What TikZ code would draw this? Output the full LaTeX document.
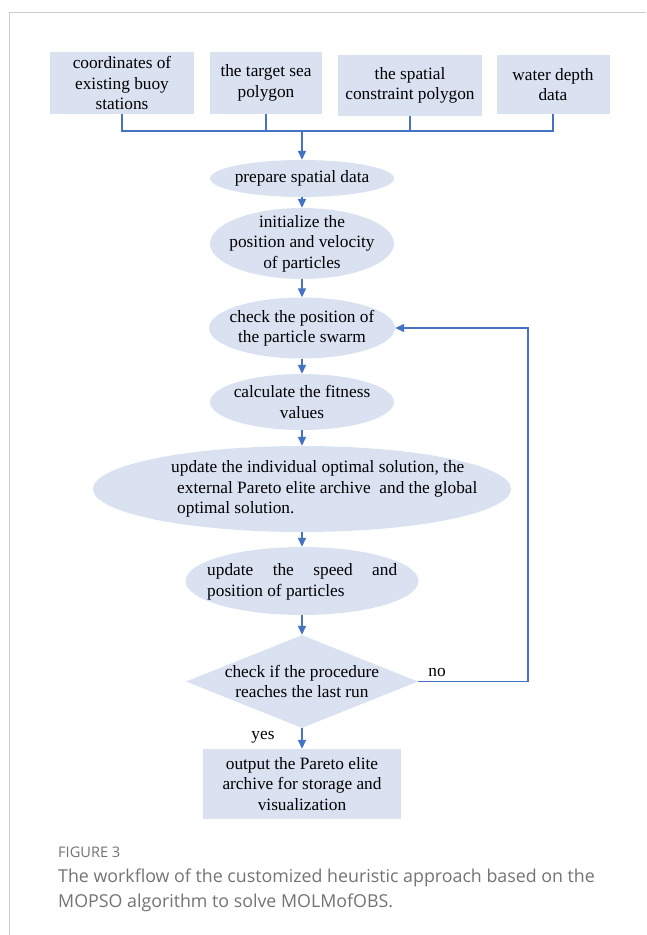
\documentclass[tikz,border=0pt]{standalone}
\usepackage{fontspec}
\setmainfont{Liberation Serif}
\newfontfamily\capfont{Open Sans}
\usetikzlibrary{shapes.geometric,arrows.meta}
\definecolor{boxfill}{RGB}{218,226,242}
\definecolor{linkblue}{RGB}{68,114,196}
\definecolor{capgray}{RGB}{115,115,115}
\definecolor{framegray}{RGB}{205,205,205}
\begin{document}
\begin{tikzpicture}[x=1pt,y=-1pt,
  txt/.style={font=\fontsize{17.3}{20.5}\selectfont, align=center, inner sep=0pt},
  inbox/.style={txt, fill=boxfill, minimum height=62pt},
  ell/.style={ellipse, fill=boxfill, inner sep=0pt},
  dia/.style={diamond, fill=boxfill, inner sep=0pt},
  link/.style={draw=linkblue, line width=1.4pt},
  arr/.style={link, -{Triangle[length=9pt,width=8pt]}},
  captxt/.style={font=\capfont\fontsize{17.8}{25}\selectfont, text=capgray, anchor=west, inner sep=0pt}]
\useasboundingbox (0,0) rectangle (646,935);
\draw[framegray, line width=1pt] (646,12) -- (9,12) -- (9,935);
% input boxes
\node[inbox, minimum width=144pt] (b1) at (122,83) {coordinates of\\existing buoy\\stations};
\node[inbox, minimum width=112pt] (b2) at (266,83) {the target sea\\polygon};
\node[inbox, minimum width=144pt, minimum height=61pt] (b3) at (410,85.5) {the spatial\\constraint polygon};
\node[inbox, minimum width=113pt, minimum height=59pt] (b4) at (553,84.5) {water depth\\data};
\coordinate (bus) at (302,131);
\draw[link] (b1.south) -- (b1.south |- bus) -- (b4.south |- bus) -- (b4.south);
\draw[link] (b2.south) -- (b2.south |- bus);
\draw[link] (b3.south) -- (b3.south |- bus);
% ellipses
\node[ell, minimum width=184pt, minimum height=37pt] (e1) at (302,178.5) {};
\node[txt] (t1) at (e1) {prepare spatial data};
\node[ell, minimum width=184pt, minimum height=71pt] (e2) at (302,243.5) {};
\node[txt] (t2) at (e2) {initialize the\\position and velocity\\of particles};
\node[ell, minimum width=186pt, minimum height=61pt] (e3) at (302,328) {};
\node[txt] (t3) at (e3) {check the position of\\the particle swarm};
\node[ell, minimum width=184pt, minimum height=56pt] (e4) at (302,402) {};
\node[txt] (t4) at (e4) {calculate the fitness\\values};
\node[ell, minimum width=418pt, minimum height=86pt] (e5) at (302,489) {};
\node[txt, align=left, anchor=west] (t5) at (171,489) {update the individual optimal solution, the\\\hspace*{6pt}external Pareto elite archive\ \ and the global\\\hspace*{6pt}optimal solution.};
\node[ell, minimum width=233pt, minimum height=68pt] (e6) at (302,581) {};
\node[txt, align=left, anchor=west] (t6) at (207,582) {\makebox[190pt][s]{update the speed and}\\position of particles};
\node[dia, minimum width=232pt, minimum height=93pt] (d) at (302,681.5) {};
\node[txt] (td) at (d) {check if the procedure\\reaches the last run};
\node[inbox, minimum width=198pt, minimum height=70pt] (out) at (302,784) {output the Pareto elite\\archive for storage and\\visualization};
% connectors
\draw[arr] (bus) -- (e1.north);
\draw[arr] (e1.south) -- (e2.north);
\draw[arr] (e2.south) -- (e3.north);
\draw[arr] (e3.south) -- (e4.north);
\draw[arr] (e4.south) -- (e5.north);
\draw[arr] (e5.south) -- (e6.north);
\draw[arr] (e6.south) -- (d.north);
\draw[arr] (d.south) -- (out.north);
\coordinate (fb) at (528,681.5);
\draw[arr] (d.east) -- (fb) |- (e3.east);
\node[txt] (no) at (437,672) {no};
\node[txt] (yes) at (263,737) {yes};
% caption
\node[captxt, font=\capfont\fontsize{14.6}{15}\selectfont] (fig) at (58,852) {FIGURE 3};
\node[captxt] (c1) at (58,878) {The workflow of the customized heuristic approach based on the};
\node[captxt] (c2) at (58,903) {MOPSO algorithm to solve MOLMofOBS.};
\end{tikzpicture}
\end{document}
